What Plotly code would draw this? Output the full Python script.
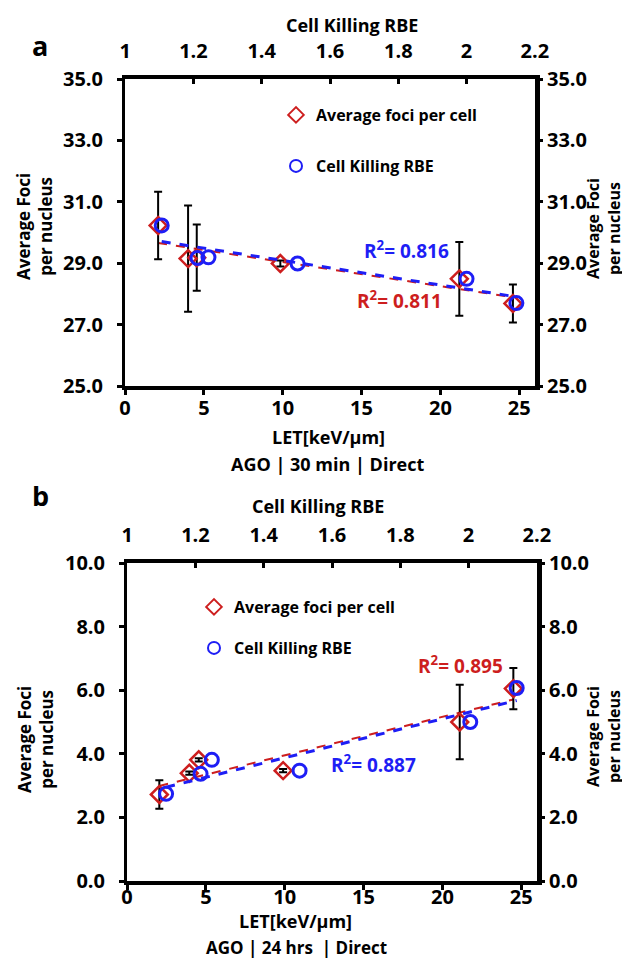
import numpy as np
import plotly.graph_objects as go

# page is 630x969; the browser keeps an 8px body margin, so the figure is shrunk to fit inside it
OFF = 8
W, H = 630 - OFF, 969 - 2 * OFF
FONT = "Open Sans, Lato, sans-serif"
RED = "rgb(205,30,30)"
BLUE = "rgb(30,30,245)"

# ---- panel a : AGO | 30 min | Direct ----
let_a = [2.1, 4.0, 4.55, 9.85, 21.2, 24.6]
foci_a = [30.23, 29.15, 29.18, 28.99, 28.49, 27.69]
foci_err_a = [1.1, 1.73, 1.08, 0.1, 1.2, 0.62]
rbe_a = [1.107, 1.212, 1.244, 1.505, 2.0, 2.146]
rbe_foci_a = [30.23, 29.17, 29.19, 28.99, 28.49, 27.70]
r2_a = {"foci": "0.811", "rbe": "0.816"}

# ---- panel b : AGO | 24 hrs | Direct ----
let_b = [2.05, 3.95, 4.55, 9.9, 21.1, 24.5]
foci_b = [2.72, 3.39, 3.81, 3.47, 5.0, 6.05]
foci_err_b = [0.45, 0.05, 0.05, 0.05, 1.17, 0.65]
rbe_b = [1.114, 1.215, 1.248, 1.505, 2.005, 2.141]
rbe_foci_b = [2.74, 3.37, 3.81, 3.47, 5.0, 6.07]
r2_b = {"foci": "0.895", "rbe": "0.887"}

let_ticks = [0, 5, 10, 15, 20, 25]
rbe_ticks = [1, 1.2, 1.4, 1.6, 1.8, 2, 2.2]
yticks_a = [25, 27, 29, 31, 33, 35]
yticks_b = [0, 2, 4, 6, 8, 10]


def px(x):
    # page pixel -> paper fraction
    return (x - OFF) / W


def py(y):
    return 1 - (y - OFF) / H


def trend(x, y):
    k, b = np.polyfit(x, y, 1)
    xs = np.array([min(x), max(x)])
    return xs, k * xs + b


fig = go.Figure()


def add_panel(n, lets, foci, err, rbes, rbe_foci, leg_red, leg_blue):
    xa, ya = ("x", "y") if n == 1 else ("x3", "y3")
    xb, yb = ("x2", "y2") if n == 1 else ("x4", "y4")
    tx, ty = trend(lets, foci)
    fig.add_trace(go.Scatter(x=tx, y=ty, mode="lines", xaxis=xa, yaxis=ya, showlegend=False,
                             line=dict(color=RED, width=2, dash="dash")))
    fig.add_trace(go.Scatter(x=lets, y=foci, mode="markers", xaxis=xa, yaxis=ya,
                             name="Average foci per cell", legend=leg_red,
                             marker=dict(symbol="diamond-open", size=13, color=RED, line=dict(width=2.5)),
                             error_y=dict(type="data", array=err, color="black", thickness=2, width=4)))
    rx, ry = trend(rbes, rbe_foci)
    fig.add_trace(go.Scatter(x=rx, y=ry, mode="lines", xaxis=xb, yaxis=yb, showlegend=False,
                             line=dict(color=BLUE, width=3, dash="dash")))
    fig.add_trace(go.Scatter(x=rbes, y=rbe_foci, mode="markers", xaxis=xb, yaxis=yb,
                             name="Cell Killing RBE", legend=leg_blue,
                             marker=dict(symbol="circle-open", size=13, color=BLUE, line=dict(width=3))))


add_panel(1, let_a, foci_a, foci_err_a, rbe_a, rbe_foci_a, "legend", "legend2")
add_panel(2, let_b, foci_b, foci_err_b, rbe_b, rbe_foci_b, "legend3", "legend4")

tickfont = dict(family=FONT, size=20, color="black", weight="bold")
base = dict(showline=True, linecolor="black", showgrid=False, zeroline=False,
            tickcolor="black", tickfont=tickfont, automargin=False)


def axes(dom_x, dom_y, yrange, yticks, xstand):
    bottom = dict(base, domain=dom_x, range=[0, 26], tickvals=let_ticks, linewidth=4,
                  ticks="outside", ticklen=5, tickwidth=3, ticklabelstandoff=xstand)
    left = dict(base, domain=dom_y, range=yrange, tickvals=yticks, tickformat=".1f",
                linewidth=3, ticks="outside", ticklen=5, tickwidth=3, ticklabelstandoff=10)
    top = dict(base, side="top", range=[0.9995, 2.2005], tickvals=rbe_ticks, linewidth=4,
               ticks="inside", ticklen=5, tickwidth=3, ticklabelstandoff=9)
    right = dict(base, side="right", range=yrange, tickvals=yticks, tickformat=".1f",
                 linewidth=5, ticks="outside", ticklen=3, tickwidth=3)
    return bottom, left, top, right


b1, l1, t1, r1 = axes([px(125), px(535)], [py(386), py(79)], [25, 35], yticks_a, -4)
b2, l2, t2, r2 = axes([px(127), px(537)], [py(881), py(563)], [0, 10], yticks_b, -10)

fig.update_layout(
    width=W, height=H, autosize=False,
    margin=dict(l=0, r=0, t=0, b=0, pad=0),
    paper_bgcolor="white", plot_bgcolor="white",
    font=dict(family=FONT, size=17, color="black", weight="bold"),
    xaxis=dict(b1, anchor="y"),
    yaxis=dict(l1, anchor="x"),
    xaxis2=dict(t1, overlaying="x", anchor="y"),
    yaxis2=dict(r1, overlaying="y", anchor="x"),
    xaxis3=dict(b2, anchor="y3"),
    yaxis3=dict(l2, anchor="x3"),
    xaxis4=dict(t2, overlaying="x3", anchor="y3"),
    yaxis4=dict(r2, overlaying="y3", anchor="x3"),
)

legfont = dict(family=FONT, size=16, color="black", weight="bold")
for name, (lx, ly) in {"legend": (276, 115), "legend2": (276, 166),
                       "legend3": (194, 607), "legend4": (194, 648)}.items():
    fig.update_layout({name: dict(x=px(lx), y=py(ly), xanchor="left", yanchor="middle",
                                  bgcolor="rgba(0,0,0,0)", font=legfont, itemsizing="constant")})


def note(text, x, y, size=17, color="black", angle=0):
    fig.add_annotation(text=text, x=px(x), y=py(y), xref="paper", yref="paper",
                       showarrow=False, textangle=angle, xanchor="center", yanchor="middle",
                       font=dict(family=FONT, size=size, color=color, weight="bold"))


# panel a texts
note("a", 40, 46, size=27)
note("Cell Killing RBE", 352, 25, size=18)
note("LET[keV/µm]", 328, 437, size=18)
note("AGO | 30 min | Direct", 327, 464, size=18)
note("Average Foci<br>per nucleus", 35, 227, angle=-90)
note("Average Foci<br>per nucleus", 603, 229, size=16, angle=-90)
note(f"R<sup>2</sup>= {r2_a['rbe']}", 406, 250, size=19, color=BLUE)
note(f"R<sup>2</sup>= {r2_a['foci']}", 399, 300, size=19, color=RED)

# panel b texts
note("b", 40, 496, size=27)
note("Cell Killing RBE", 318, 506, size=18)
note("LET[keV/µm]", 295, 921, size=18)
note("AGO | 24 hrs  | Direct", 296, 947, size=17)
note("Average Foci<br>per nucleus", 35, 740, angle=-90)
note("Average Foci<br>per nucleus", 603, 737, size=16, angle=-90)
note(f"R<sup>2</sup>= {r2_b['foci']}", 460, 665, size=19, color=RED)
note(f"R<sup>2</sup>= {r2_b['rbe']}", 373, 764, size=19, color=BLUE)

fig.write_html("out.html")
